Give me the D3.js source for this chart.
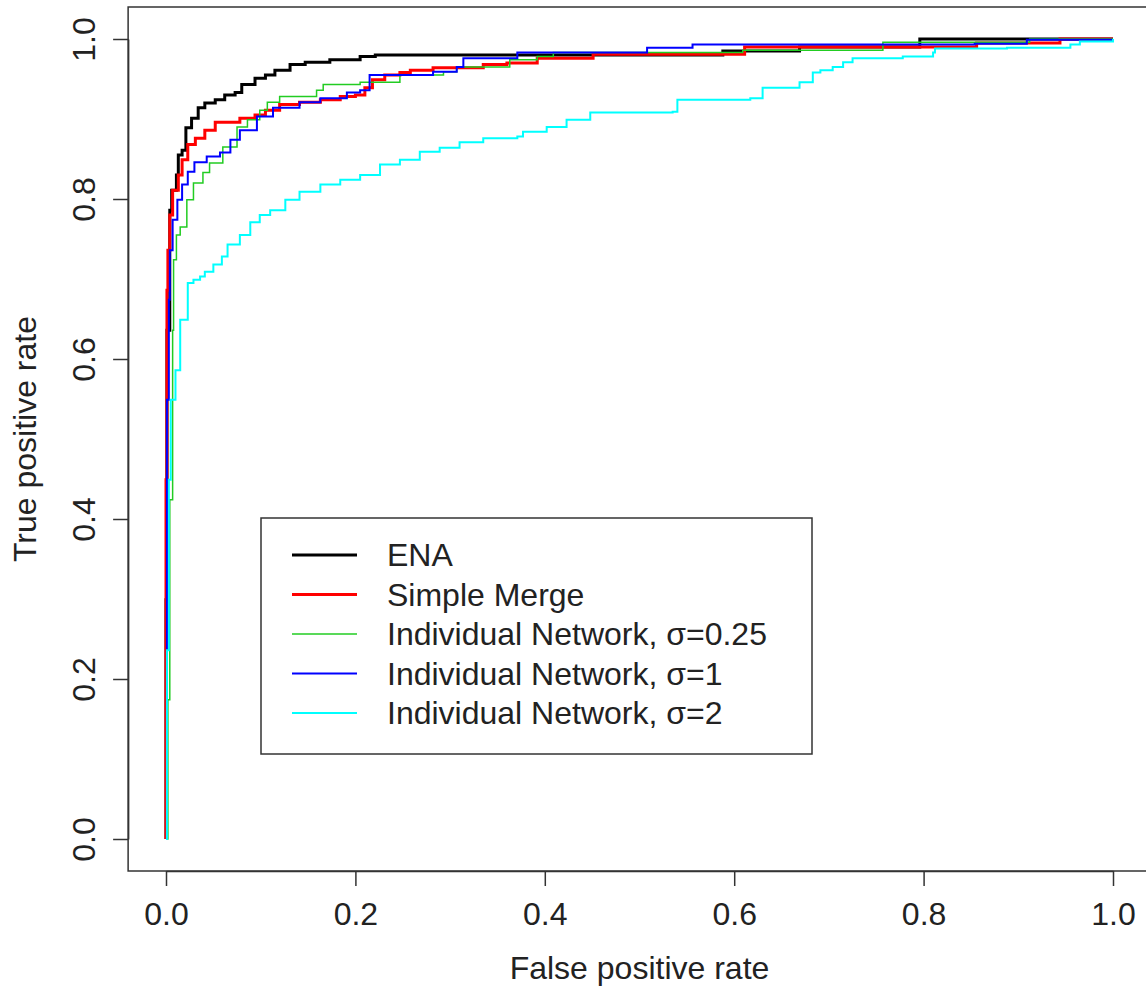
<!DOCTYPE html>
<html>
<head>
<meta charset="utf-8">
<script src="https://cdn.jsdelivr.net/npm/d3@7"></script>
<style>
    body { margin: 0; background: #fff; }
    text { font-family: "Liberation Sans", Arial, sans-serif; fill: #222; }
</style>
</head>
<body>
<main></main>
<script>
// ROC curves: false positive rate / true positive rate
const enaFpr = [0, 0, 0.001, 0.004, 0.006, 0.011, 0.013, 0.017, 0.021, 0.027, 0.034, 0.041, 0.052, 0.062, 0.073, 0.080, 0.094, 0.105, 0.115, 0.131, 0.147, 0.173, 0.205, 0.221, 0.588, 0.669, 0.796, 1];
const enaTpr = [0, 0.299, 0.636, 0.786, 0.811, 0.83, 0.855, 0.861, 0.889, 0.901, 0.914, 0.92, 0.924, 0.93, 0.933, 0.943, 0.951, 0.955, 0.961, 0.968, 0.971, 0.974, 0.978, 0.98, 0.985, 0.99, 1, 1];

const mergeFpr = [0, 0, 0.001, 0.002, 0.004, 0.007, 0.013, 0.017, 0.023, 0.031, 0.041, 0.052, 0.078, 0.094, 0.105, 0.12, 0.141, 0.163, 0.184, 0.2, 0.21, 0.218, 0.231, 0.247, 0.258, 0.282, 0.335, 0.36, 0.392, 0.451, 0.611, 0.856, 0.944, 1];
const mergeTpr = [0, 0.449, 0.686, 0.736, 0.78, 0.811, 0.83, 0.849, 0.868, 0.876, 0.886, 0.896, 0.901, 0.905, 0.911, 0.918, 0.921, 0.924, 0.928, 0.93, 0.939, 0.949, 0.955, 0.958, 0.961, 0.964, 0.968, 0.97, 0.976, 0.981, 0.99, 0.995, 1, 1];

const s025Fpr = [0, 0.002, 0.004, 0.007, 0.008, 0.011, 0.015, 0.022, 0.029, 0.039, 0.046, 0.06, 0.075, 0.086, 0.099, 0.107, 0.12, 0.159, 0.166, 0.205, 0.247, 0.293, 0.307, 0.363, 0.392, 0.409, 0.585, 0.609, 0.757, 0.757, 0.912, 0.912, 1];
const s025Tpr = [0, 0.174, 0.424, 0.636, 0.724, 0.755, 0.765, 0.799, 0.82, 0.833, 0.845, 0.865, 0.89, 0.899, 0.911, 0.921, 0.928, 0.936, 0.943, 0.946, 0.955, 0.959, 0.965, 0.974, 0.978, 0.983, 0.983, 0.986, 0.986, 0.996, 0.996, 1, 1];

const s1Fpr = [0, 0.001, 0.003, 0.004, 0.007, 0.012, 0.017, 0.023, 0.03, 0.043, 0.057, 0.068, 0.078, 0.096, 0.113, 0.141, 0.163, 0.191, 0.205, 0.215, 0.247, 0.282, 0.307, 0.314, 0.363, 0.371, 0.508, 0.556, 0.854, 0.909, 1];
const s1Tpr = [0, 0.549, 0.674, 0.736, 0.774, 0.799, 0.818, 0.834, 0.846, 0.853, 0.858, 0.874, 0.886, 0.903, 0.914, 0.921, 0.926, 0.933, 0.936, 0.955, 0.955, 0.959, 0.965, 0.976, 0.976, 0.983, 0.989, 0.993, 0.994, 0.999, 1];

const s2Fpr = [0, 0.001, 0.003, 0.005, 0.01, 0.015, 0.023, 0.029, 0.036, 0.041, 0.05, 0.059, 0.065, 0.078, 0.089, 0.099, 0.11, 0.126, 0.141, 0.163, 0.184, 0.205, 0.226, 0.247, 0.268, 0.289, 0.31, 0.335, 0.371, 0.377, 0.402, 0.423, 0.448, 0.535, 0.54, 0.617, 0.63, 0.662, 0.669, 0.683, 0.691, 0.704, 0.715, 0.725, 0.778, 0.81, 0.812, 0.888, 0.955, 0.965, 1];
const s2Tpr = [0, 0.236, 0.449, 0.549, 0.586, 0.649, 0.695, 0.699, 0.703, 0.709, 0.718, 0.728, 0.743, 0.755, 0.771, 0.78, 0.786, 0.799, 0.809, 0.818, 0.824, 0.83, 0.843, 0.849, 0.859, 0.864, 0.871, 0.876, 0.878, 0.884, 0.89, 0.899, 0.908, 0.909, 0.924, 0.926, 0.939, 0.939, 0.946, 0.958, 0.961, 0.965, 0.971, 0.976, 0.978, 0.983, 0.988, 0.989, 0.993, 0.997, 1];

const seriesNames = ['ENA', 'Simple Merge', 'Individual Network, \u03c3=0.25', 'Individual Network, \u03c3=1', 'Individual Network, \u03c3=2'];
const ticks = [0, 0.2, 0.4, 0.6, 0.8, 1.0];

const colors = ['#000000', '#ff0000', '#22cc22', '#0000ff', '#00ffff'];
const widths = [3, 3, 1.5, 2, 2];

const series = [
    [enaFpr, enaTpr], [mergeFpr, mergeTpr], [s025Fpr, s025Tpr], [s1Fpr, s1Tpr], [s2Fpr, s2Tpr]
].map(([f, t], i) => ({ name: seriesNames[i], pts: f.map((v, j) => [v, t[j]]) }));

const w = 1146;
const h = 989;
const fs = '32px';
const svg = d3.select('main').append('svg').attr('width', w).attr('height', h);

const x = d3.scaleLinear().domain([0, 1]).range([166, 1113]);
const y = d3.scaleLinear().domain([0, 1]).range([839, 39]);

// plot frame (R box, 4% padding on every side)
svg.append('rect')
    .attr('x', x(-0.04)).attr('y', y(1.04))
    .attr('width', x(1.04) - x(-0.04)).attr('height', y(-0.04) - y(1.04))
    .attr('fill', 'none').attr('stroke', '#333').attr('stroke-width', 1.5);

const line = d3.line().x(d => x(d[0])).y(d => y(d[1])).curve(d3.curveStepAfter);
svg.append('g')
    .selectAll('path')
    .data(series)
    .enter()
    .append('path')
    .attr('d', d => line(d.pts))
    .attr('fill', 'none')
    .attr('stroke', (d, i) => colors[i])
    .attr('stroke-width', (d, i) => widths[i]);

const xAxis = d3.axisBottom(x).tickValues(ticks).tickFormat(d3.format('.1f')).tickSize(15).tickSizeOuter(0).tickPadding(16);
const gx = svg.append('g').attr('transform', `translate(0, ${y(-0.04)})`).call(xAxis);
gx.selectAll('path, line').attr('stroke', '#333').attr('stroke-width', 1.5);
gx.selectAll('text').style('font-size', fs).attr('fill', '#222');

const yAxis = d3.axisLeft(y).tickValues(ticks).tickFormat(d3.format('.1f')).tickSize(15).tickSizeOuter(0);
const gy = svg.append('g').attr('transform', `translate(${x(-0.04)}, 0)`).call(yAxis);
gy.selectAll('path, line').attr('stroke', '#333').attr('stroke-width', 1.5);
gy.selectAll('text')
    .style('font-size', fs)
    .attr('fill', '#222')
    .attr('x', 0).attr('y', -33).attr('dy', 0)
    .attr('text-anchor', 'middle')
    .attr('transform', 'rotate(-90)');
svg.selectAll('g').attr('font-family', null);

svg.append('text')
    .attr('x', (x(0) + x(1)) / 2).attr('y', 979)
    .attr('text-anchor', 'middle').style('font-size', fs)
    .text('False positive rate');
svg.append('text')
    .attr('transform', `translate(36, ${(y(0) + y(1)) / 2}) rotate(-90)`)
    .attr('text-anchor', 'middle').style('font-size', fs)
    .text('True positive rate');

// legend
const legend = svg.append('g').attr('transform', 'translate(261, 518)');
legend.append('rect')
    .attr('width', 551).attr('height', 236)
    .attr('fill', '#fff').attr('stroke', '#333').attr('stroke-width', 1.5);
const rows = legend.selectAll('g.row')
    .data(series)
    .enter()
    .append('g')
    .attr('class', 'row')
    .attr('transform', (d, i) => `translate(0, ${37 + i * 39.5})`);
rows.append('line')
    .attr('x1', 31).attr('x2', 96)
    .attr('stroke', (d, i) => colors[i])
    .attr('stroke-width', (d, i) => widths[i]);
rows.append('text')
    .attr('x', 126).attr('y', 11)
    .style('font-size', fs)
    .text(d => d.name);
</script>
</body>
</html>
